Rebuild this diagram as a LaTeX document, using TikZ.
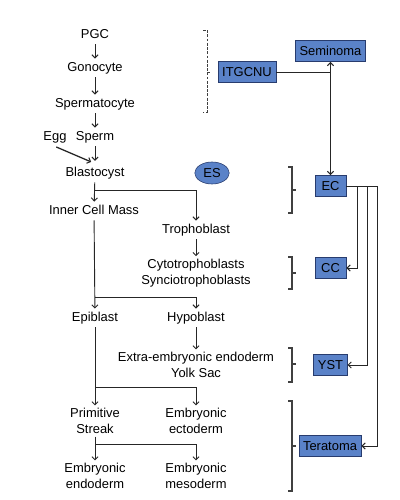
\documentclass[tikz,border=0pt]{standalone}
\usepackage{fontspec}
\setmainfont{Liberation Sans}
\usetikzlibrary{arrows.meta,shapes.geometric}
\definecolor{tumorblue}{RGB}{90,130,200}
\definecolor{tumorline}{RGB}{40,60,110}

\begin{document}
\begin{tikzpicture}[x=0.025cm, y=-0.025cm, >={Straight Barb[length=2.2pt, width=4.4pt, line width=0.7pt]},
  every node/.style={font=\fontsize{9.2}{11}\selectfont},
  cell/.style={text height=7pt, text depth=2pt, inner sep=2pt},
  twocell/.style={align=center, inner sep=2pt},
  tumor/.style={draw=tumorline, fill=tumorblue, inner xsep=3pt, minimum width=0.78cm, minimum height=0.53cm},
  link/.style={draw=black!85, line width=0.65pt},
  bracket/.style={draw=black!75, line width=0.85pt}]
\useasboundingbox (0,0) rectangle (400,500);

% development
\node[cell] (pgc) at (95,35) {PGC};
\node[cell] (gono) at (95,68) {Gonocyte};
\node[cell] (sperm1) at (95,104) {Spermatocyte};
\node[cell] (egg) at (55,137) {Egg};
\node[cell] (sperm2) at (95,137) {Sperm};
\node[cell] (blast) at (95,173) {Blastocyst};
\node[cell] (icm) at (94,211) {Inner Cell Mass};
\node[cell] (troph) at (196,230) {Trophoblast};
\node[twocell] (cyto) at (196,273) {Cytotrophoblasts\\Synciotrophoblasts};
\node[cell] (epi) at (95,318) {Epiblast};
\node[cell] (hypo) at (196,318) {Hypoblast};
\node[twocell] (yolk) at (196,365) {Extra-embryonic endoderm\\Yolk Sac};
\node[twocell] (streak) at (95,421) {Primitive\\Streak};
\node[twocell] (ecto) at (196,421) {Embryonic\\ectoderm};
\node[twocell] (endo) at (95,476) {Embryonic\\endoderm};
\node[twocell] (meso) at (196,476) {Embryonic\\mesoderm};

\coordinate (split1) at (95,190);
\coordinate (split2) at (95,297);
\coordinate (split3) at (95,387);
\coordinate (split4) at (95,444);

\draw[link, ->] (pgc) -- (gono);
\draw[link, ->] (gono) -- (sperm1);
\draw[link, ->] (sperm1) -- (sperm2);
\draw[link, ->, shorten >=2pt] (sperm2) -- (blast);
\draw[link, ->, line width=0.9pt, shorten <=1pt, shorten >=3pt] (egg.south) -- (blast.north);
\draw[link, ->] (blast) -- (icm);
\draw[link, ->] (split1) -| (troph);
\draw[link, ->] (troph) -- (cyto);
\draw[link, ->] (icm) -- (epi);
\draw[link, ->] (split2) -| (hypo);
\draw[link, ->] (hypo) -- (yolk);
\draw[link, ->] (epi) -- (streak);
\draw[link, ->] (split3) -| (ecto);
\draw[link, ->] (streak) -- (endo);
\draw[link, ->] (split4) -| (meso);

% tumours
\node[tumor] (itg) at (247,72) {ITGCNU};
\node[tumor] (sem) at (330.5,51) {Seminoma};
\node[ellipse, draw=tumorline, fill=tumorblue, minimum width=0.86cm, minimum height=0.55cm, inner sep=0pt] (es) at (212,173) {ES};
\node[tumor] (ec) at (330.5,186) {EC};
\node[tumor] (cc) at (330.5,268) {CC};
\node[tumor] (yst) at (330.5,365) {YST};
\node[tumor] (tera) at (330,446) {Teratoma};

\draw[link] (itg) -- (itg -| sem);
\draw[link, <->] (sem) -- (ec);
\draw[link, ->] (ec.east) -- ++(11,0) |- (cc);
\draw[link, ->] (ec.east) -- ++(21,0) |- (yst);
\draw[link, ->] (ec.east) -- ++(31,0) |- (tera);

% brackets
\draw[bracket, dashed, dash pattern=on 2pt off 1pt, line width=0.6pt] (203,30) -- (207,30) -- (207,112) -- (203,112) (207,72) -- (211,72);
\draw[bracket] (288,167) -- (292,167) -- (292,213) -- (288,213) (292,190) -- (296,190);
\draw[bracket] (288,257) -- (292,257) -- (292,289) -- (288,289) (292,273) -- (296,273);
\draw[bracket] (288,348) -- (292,348) -- (292,382) -- (288,382) (292,364) -- (296,364);
\draw[bracket] (288,401) -- (292,401) -- (292,491) -- (288,491) (292,446) -- (296,446);
\end{tikzpicture}
\end{document}
